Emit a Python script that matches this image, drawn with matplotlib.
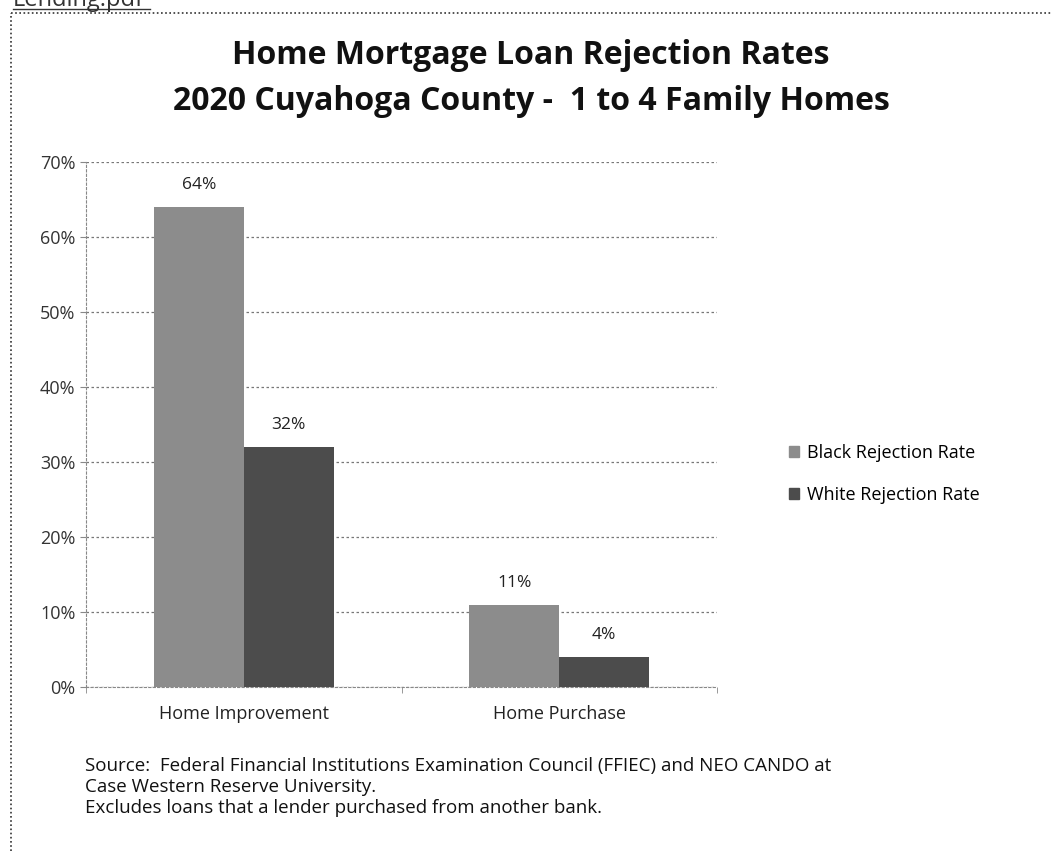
import matplotlib

matplotlib.use("Agg")

import matplotlib.pyplot as plt
from matplotlib.patches import Rectangle
from matplotlib.lines import Line2D

categories = ["Home Improvement", "Home Purchase"]
series_names = ["Black Rejection Rate", "White Rejection Rate"]
black_rate = [64, 11]
white_rate = [32, 4]
yticks = [0, 10, 20, 30, 40, 50, 60, 70]

plt.rcParams["font.family"] = ["Open Sans", "DejaVu Sans"]

W, H = 1052, 851
fig = plt.figure(figsize=(W / 100, H / 100), dpi=100)
ax = fig.add_axes([86 / W, 1 - 687 / H, 631 / W, 525 / H])

x = list(range(len(categories)))
w = 0.285
colors = ["#8c8c8c", "#4c4c4c"]
for i, (vals, name) in enumerate(zip([black_rate, white_rate], series_names)):
    pos = [xi + (i - 0.5) * w for xi in x]
    bars = ax.bar(pos, vals, width=w, color=colors[i], label=name, zorder=3)
    for b, v in zip(bars, vals):
        ax.text(b.get_x() + b.get_width() / 2, v + 2.9, f"{v}%", ha="center",
                va="center", fontsize=12.5, color="#222222")

ax.set_xlim(-0.5, 1.5)
ax.set_ylim(0, 70)
ax.set_yticks(yticks)
ax.set_yticklabels([f"{t}%" for t in yticks], fontsize=13, color="#333333")
ax.set_xticks(x)
ax.set_xticklabels(categories, fontsize=13, color="#222222")
ax.set_xticks([-0.5, 0.5, 1.5], minor=True)
ax.tick_params(axis="x", which="major", length=0, pad=13)
ax.tick_params(axis="x", which="minor", length=4, color="#888888")
ax.tick_params(axis="y", length=4.5, color="#888888", pad=3)
ax.grid(axis="y", linestyle=(0, (2, 2)), color="#777777", linewidth=0.9, zorder=0)
for side in ["top", "right"]:
    ax.spines[side].set_visible(False)
for side in ["left", "bottom"]:
    ax.spines[side].set_linestyle((0, (2, 2)))
    ax.spines[side].set_color("#888888")

fig.text(531 / W, 1 - 55 / H, "Home Mortgage Loan Rejection Rates", ha="center",
         va="center", fontsize=23, fontweight="bold", color="#111111")
fig.text(531 / W, 1 - 102 / H, "2020 Cuyahoga County -  1 to 4 Family Homes", ha="center",
         va="center", fontsize=23, fontweight="bold", color="#111111")

handles = [Rectangle((0, 0), 1, 1, color=c) for c in colors]
fig.legend(handles, series_names, loc="center left", bbox_to_anchor=(789 / W, 1 - 474 / H),
           frameon=False, fontsize=13, handlelength=0.55, handleheight=0.55,
           handletextpad=0.45, labelspacing=1.3, borderpad=0, borderaxespad=0)

note_lines = [
    "Source:  Federal Financial Institutions Examination Council (FFIEC) and NEO CANDO at",
    "Case Western Reserve University.",
    "Excludes loans that a lender purchased from another bank.",
]
for k, line in enumerate(note_lines):
    fig.text(85 / W, 1 - (766 + 21 * k) / H, line, ha="left", va="center", fontsize=13.5,
             color="#111111")

# dotted page frame
fig.add_artist(Line2D([11 / W, 11 / W], [0, 1 - 13 / H], transform=fig.transFigure,
                      linestyle=(0, (1, 1.5)), color="#333333", lw=1.2))
fig.add_artist(Line2D([11 / W, 1], [1 - 13 / H, 1 - 13 / H], transform=fig.transFigure,
                      linestyle=(0, (1, 1.5)), color="#333333", lw=1.2))
fig.text(13 / W, 1 - 6 / H, "Lending.pdf", ha="left", va="baseline", fontsize=17,
         color="#333333")
fig.add_artist(Line2D([13 / W, 150 / W], [1 - 9 / H, 1 - 9 / H], transform=fig.transFigure,
                      color="#333333", lw=1))

fig.savefig("out.png", dpi=100)
